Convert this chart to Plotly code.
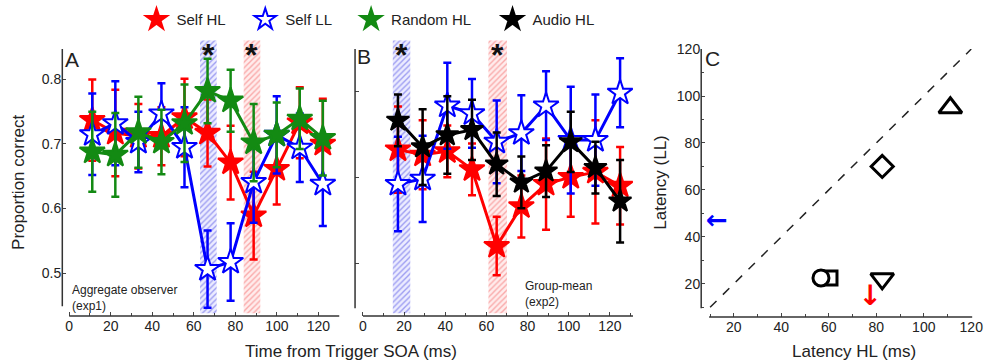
import plotly.graph_objects as go

# ---------------- data ----------------
# Panel A (aggregate observer, exp1)
xA = [11.1, 22.2, 33.3, 44.4, 55.5, 66.6, 77.7, 88.8, 99.9, 111.0, 122.1]
A_selfHL = [0.737, 0.717, 0.712, 0.712, 0.741, 0.717, 0.671, 0.589, 0.661, 0.733, 0.700]
A_selfHL_err = [0.063, 0.067, 0.05, 0.045, 0.06, 0.052, 0.057, 0.068, 0.055, 0.055, 0.07]
A_selfLL = [0.715, 0.732, 0.703, 0.747, 0.695, 0.506, 0.517, 0.641, 0.714, 0.694, 0.638]
A_selfLL_err = [0.063, 0.065, 0.047, 0.047, 0.062, 0.06, 0.06, 0.063, 0.06, 0.053, 0.065]
A_random = [0.688, 0.683, 0.718, 0.703, 0.732, 0.782, 0.767, 0.702, 0.714, 0.739, 0.709]
A_random_err = [0.062, 0.065, 0.055, 0.05, 0.06, 0.05, 0.048, 0.06, 0.05, 0.047, 0.058]
A_bands = [(63, 71), (84, 92)]          # significance windows (ms)

# Panel B (group mean, exp2)
xB = [17, 29, 41, 53, 65, 77, 89, 101, 113, 125]
B_selfHL = [0.732, 0.726, 0.730, 0.709, 0.620, 0.666, 0.692, 0.700, 0.706, 0.690]
B_selfHL_err = [0.05, 0.04, 0.03, 0.03, 0.034, 0.036, 0.053, 0.046, 0.06, 0.045]
B_selfLL = [0.692, 0.698, 0.783, 0.774, 0.741, 0.751, 0.783, 0.743, 0.743, 0.798]
B_selfLL_err = [0.055, 0.05, 0.05, 0.04, 0.048, 0.044, 0.04, 0.062, 0.053, 0.04]
B_audio = [0.766, 0.735, 0.749, 0.755, 0.715, 0.694, 0.707, 0.741, 0.711, 0.672]
B_audio_err = [0.03, 0.044, 0.045, 0.035, 0.037, 0.03, 0.03, 0.035, 0.03, 0.048]
B_bands = [(14.5, 23), (61, 70)]

# Panel C (latencies)
C_HL = [60.5, 56.7, 82.5, 82.5, 111.2]
C_LL = [22.5, 22.5, 22.1, 70.0, 95.0]
C_symbols = ["square", "circle", "triangle-down", "diamond", "triangle-up"]
C_arrow_blue = (12.9, 46.3)
C_arrow_red = (77.5, 13.8)
diag = [10, 120]

legend_names = ["Self HL", "Self LL", "Random HL", "Audio HL"]

# ---------------- style ----------------
W, H = 1000, 364
FONT = "Liberation Sans, Arial, sans-serif"
RED, BLUE, GREEN, BLACK = "#FF0000", "#0000FF", "#138A13", "#000000"

def px(x):
    return x / W

def py(y):
    return 1 - y / H

fig = go.Figure()

rangeA = [0.4333, 0.8606]
rangeB = [0.5386, 0.859]
band_bot_A = 0.4333 + (315 - 312) / 660
band_bot_B = 0.5386 + (315 - 312) / 880

def add_bands(bands, colors, bgs, xa, ya, ybot, ytop):
    for (b0, b1), c, bg in zip(bands, colors, bgs):
        fig.add_trace(go.Bar(
            x=[(b0 + b1) / 2], y=[ytop - ybot], base=[ybot], width=[b1 - b0],
            xaxis=xa, yaxis=ya, showlegend=False, hoverinfo="skip",
            marker=dict(color=bg, line=dict(width=0),
                        pattern=dict(shape="/", fgcolor=c, bgcolor=bg,
                                     size=4, solidity=0.35, fillmode="overlay")),
        ))

band_fg = ["rgba(40,40,220,0.8)", "rgba(240,60,60,0.75)"]
band_bg = ["rgba(150,150,255,0.18)", "rgba(255,150,150,0.18)"]
add_bands(A_bands, band_fg, band_bg, "x", "y", band_bot_A, rangeA[1])
add_bands(B_bands, band_fg, band_bg, "x2", "y2", band_bot_B, rangeB[1])

def series(x, y, e, color, fill, xa, ya, lw=3, size=19, mlw=2):
    fig.add_trace(go.Scatter(
        x=x, y=y, mode="lines+markers", xaxis=xa, yaxis=ya, showlegend=False,
        line=dict(color=color, width=lw),
        marker=dict(symbol="star", size=size, color=fill, line=dict(color=color, width=mlw)),
        error_y=dict(type="data", array=e, visible=True, color=color, thickness=2.5, width=4),
    ))

# Panel A
series(xA, A_selfHL, A_selfHL_err, RED, RED, "x", "y")
series(xA, A_selfLL, A_selfLL_err, BLUE, "white", "x", "y")
series(xA, A_random, A_random_err, GREEN, GREEN, "x", "y")
# Panel B
series(xB, B_selfHL, B_selfHL_err, RED, RED, "x2", "y2")
series(xB, B_selfLL, B_selfLL_err, BLUE, "white", "x2", "y2")
series(xB, B_audio, B_audio_err, BLACK, BLACK, "x2", "y2", size=17)

# Legend entries (one legend per entry for exact placement)
leg_styles = [(RED, RED), (BLUE, "white"), (GREEN, GREEN), (BLACK, BLACK)]
leg_ids = ["legend", "legend2", "legend3", "legend4"]
for name, (color, fill), lid in zip(legend_names, leg_styles, leg_ids):
    fig.add_trace(go.Scatter(
        x=[None], y=[None], mode="markers", name=name, xaxis="x", yaxis="y", legend=lid,
        marker=dict(symbol="star", size=18, color=fill, line=dict(color=color, width=2)),
    ))

# Panel C
fig.add_trace(go.Scatter(x=diag, y=diag, mode="lines", xaxis="x3", yaxis="y3", showlegend=False,
                         line=dict(color="#222", width=1.5, dash="dash")))
C_sizes = {"square": 14, "circle": 16, "triangle-down": 20, "diamond": 17, "triangle-up": 20}
for hx, ly, sym in zip(C_HL, C_LL, C_symbols):
    fig.add_trace(go.Scatter(
        x=[hx], y=[ly], mode="markers", xaxis="x3", yaxis="y3", showlegend=False,
        marker=dict(symbol=sym, size=C_sizes[sym], color="white", line=dict(color="black", width=3)),
    ))
fig.add_trace(go.Scatter(x=[C_arrow_blue[0]], y=[C_arrow_blue[1]], mode="text", text=["<b>←</b>"],
                         xaxis="x3", yaxis="y3", showlegend=False,
                         textfont=dict(color=BLUE, size=26, family="DejaVu Sans")))
fig.add_trace(go.Scatter(x=[C_arrow_red[0]], y=[C_arrow_red[1]], mode="text", text=["<b>↓</b>"],
                         xaxis="x3", yaxis="y3", showlegend=False,
                         textfont=dict(color=RED, size=28, family="DejaVu Sans")))

tickfont = dict(family=FONT, size=14, color="#222")
common_x = dict(showline=False, showgrid=False, zeroline=False, ticks="inside", ticklen=4,
                tickcolor="#444", tickfont=tickfont, minor=dict(ticks="inside", ticklen=3, dtick=10, tickcolor="#444"))
common_y = dict(showline=False, showgrid=False, zeroline=False, ticks="inside", ticklen=4,
                tickcolor="#444", tickfont=tickfont)

legend_x = [138, 248, 355, 498]
legends = {}
for lid, lx in zip(leg_ids, legend_x):
    legends[lid] = dict(orientation="h", x=px(lx), y=py(12), xanchor="left", yanchor="middle",
                        font=dict(family=FONT, size=15, color="#222"), bgcolor="rgba(0,0,0,0)",
                        itemwidth=30)

fig.update_layout(
    width=W, height=H, margin=dict(l=0, r=0, t=0, b=0),
    paper_bgcolor="white", plot_bgcolor="rgba(0,0,0,0)",
    barmode="overlay", font=dict(family=FONT, color="#222"),
    xaxis=dict(domain=[px(63), px(343)], range=[-3.33, 130], anchor="y",
               tickvals=[0, 20, 40, 60, 80, 100, 120], **common_x),
    yaxis=dict(domain=[py(315), py(33)], range=rangeA, anchor="x",
               tickvals=[0.5, 0.6, 0.7, 0.8], ticktext=["0.5", "0.6", "0.7", "0.8"], **common_y),
    xaxis2=dict(domain=[px(359), px(640)], range=[-3.85, 131.25], anchor="y2",
                tickvals=[0, 20, 40, 60, 80, 100, 120], **common_x),
    yaxis2=dict(domain=[py(315), py(33)], range=rangeB, anchor="x2",
                tickvals=[0.6, 0.7, 0.8], showticklabels=False, **common_y),
    xaxis3=dict(domain=[px(709), px(983)], range=[6.25, 120.4], anchor="y3",
                tickvals=[20, 40, 60, 80, 100, 120], **common_x),
    yaxis3=dict(domain=[py(316), py(42)], range=[5.83, 120], anchor="x3",
                tickvals=[20, 40, 60, 80, 100, 120],
                minor=dict(ticks="inside", ticklen=3, dtick=10, tickcolor="#444"), **common_y),
    showlegend=True,
    **legends,
)

# axis lines (offset, Origin-style)
axis_lines = [
    (63, 42, 63, 305), (70, 315, 343, 315),
    (359, 42, 359, 307), (367, 315, 640, 315),
    (709, 42, 709, 307), (717, 316, 983, 316),
]
for x0, y0, x1, y1 in axis_lines:
    fig.add_shape(type="line", xref="paper", yref="paper", x0=px(x0), y0=py(y0), x1=px(x1), y1=py(y1),
                  line=dict(color="#333", width=1.5))

ann = []
def text(x, y, s, size, xanchor="center", yanchor="middle", angle=0, xref="paper", color="#222"):
    ann.append(dict(x=x, y=y, xref=xref, yref="paper", text=s, showarrow=False, textangle=angle,
                    xanchor=xanchor, yanchor=yanchor, align="left",
                    font=dict(family=FONT, size=size, color=color)))

text(px(64), py(53), "A", 21, xanchor="left")
text(px(359), py(50), "B", 21, xanchor="left")
text(px(711), py(52), "C", 21, xanchor="left")
for (b0, b1) in A_bands:
    text((b0 + b1) / 2, py(48), "<b>*</b>", 32, xref="x", color="#111")
for (b0, b1) in B_bands:
    text((b0 + b1) / 2, py(48), "<b>*</b>", 32, xref="x2", color="#111")
text(px(71), py(297), "Aggregate observer<br>(exp1)", 12, xanchor="left")
text(px(529), py(292), "Group-mean<br>(exp2)", 12, xanchor="left")
text(px(18), py(178), "Proportion correct", 17, angle=-90)
text(px(355), py(351), "Time from Trigger SOA (ms)", 17)
text(px(667), py(178), "Latency (LL)", 17, angle=-90)
text(px(863), py(351), "Latency HL (ms)", 17)
fig.update_layout(annotations=ann)

fig.write_html("out.html")
